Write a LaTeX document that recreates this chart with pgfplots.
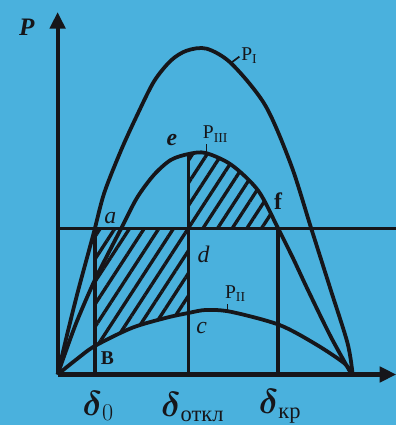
\documentclass[border=0pt]{standalone}
\usepackage{amsmath}
\usepackage{fontspec}
\setmainfont{Liberation Serif}
\usepackage{pgfplots}
\pgfplotsset{compat=1.18}
\usepgfplotslibrary{fillbetween}
\usetikzlibrary{arrows.meta,patterns.meta}
\definecolor{bgblue}{RGB}{74,177,221}
\definecolor{ink}{RGB}{22,22,26}

\begin{document}
\begin{tikzpicture}
\begin{axis}[
  set layers,
  x=0.25mm, y=0.25mm,
  xmin=0, xmax=341, ymin=0, ymax=365,
  enlargelimits=false,
  axis lines=left,
  axis line style={ink, line width=3pt},
  x axis line style={-{Triangle[length=4.2mm,width=3.8mm]}},
  y axis line style={-{Triangle[length=4.2mm,width=3.8mm]}},
  xtick=\empty, ytick=\empty,
  clip=false,
]
  % page background, 1 px of the reference = 1 axis unit
  \begin{pgfonlayer}{axis background}
    \fill[bgblue] (axis cs:-58,-51) rectangle (axis cs:341,377);
  \end{pgfonlayer}

  % P_I  (normal mode)
  \addplot[ink, line width=2.7pt, smooth, name path=P1] coordinates {
    (0,0) (10,42) (20,82) (30,119) (37,145) (47,183) (64,226) (80,261)
    (97,295) (114,316) (130,326) (150,328) (175,313) (209,271) (235,211)
    (255,148) (275,85) (292,31) (297,0)};
  % P_III (post-fault)
  \addplot[ink, line width=2.7pt, smooth, name path=P3] coordinates {
    (0,0) (18,50) (36,92) (50,120) (64,147) (80,178) (97,201) (114,216)
    (132,222) (149,223) (175,211) (202,185) (222,147) (237,117) (252,85)
    (275,38) (296,0)};
  % P_II (fault)
  \addplot[ink, line width=2.7pt, smooth, name path=P2] coordinates {
    (0,0) (20,16) (38,29) (75,47) (109,57) (132,62) (150,65) (175,63)
    (223,50) (259,31) (289,11) (296,0)};
  % P_0
  \addplot[ink, line width=2.4pt, name path=P0] coordinates {(0,147) (341,147)};

  \addplot[pattern={Lines[angle=57,distance=8.8pt,line width=2.4pt]}, pattern color=ink]
    fill between[of=P0 and P2, soft clip={domain=37.5:132}];
  \addplot[pattern={Lines[angle=57,distance=8.8pt,line width=2.4pt]}, pattern color=ink]
    fill between[of=P3 and P0, soft clip={domain=132:222}];

  \addplot[ink, line width=2.5pt] coordinates {(37.5,0) (37.5,147)};
  \addplot[ink, line width=2.5pt] coordinates {(132,0) (132,222)};
  \addplot[ink, line width=2.5pt] coordinates {(222,0) (222,147)};

  \draw[ink, line width=1.2pt] (axis cs:175,314) -- (axis cs:183,320);
  \draw[ink, line width=1.2pt] (axis cs:150,223) -- (axis cs:150,232);
  \draw[ink, line width=1.2pt] (axis cs:171,64) -- (axis cs:171,71);

  \node[ink, font=\fontsize{18}{20}\selectfont\bfseries\itshape] at (axis cs:-31,350) {P};
  \node[ink, font=\fontsize{14}{16}\selectfont] at (axis cs:193,321) {P\textsubscript{I}};
  \node[ink, font=\fontsize{14}{16}\selectfont] at (axis cs:159,242) {P\textsubscript{III}};
  \node[ink, font=\fontsize{14}{16}\selectfont] at (axis cs:179,81) {P\textsubscript{II}};
  \node[ink, font=\fontsize{17}{18}\selectfont\itshape] at (axis cs:53,158) {a};
  \node[ink, font=\fontsize{17}{18}\selectfont\itshape\bfseries] at (axis cs:115,236) {e};
  \node[ink, font=\fontsize{17}{18}\selectfont\itshape] at (axis cs:147,121) {d};
  \node[ink, font=\fontsize{17}{18}\selectfont\itshape] at (axis cs:145,47) {c};
  \node[ink, font=\fontsize{17}{18}\selectfont\bfseries] at (axis cs:222,175) {f};
  \node[ink, font=\fontsize{14}{16}\selectfont\bfseries] at (axis cs:50,16) {B};

  \node[ink, font=\fontsize{23}{26}\selectfont] at (axis cs:41,-32) {$\boldsymbol{\delta}_{0}$};
  \node[ink, font=\fontsize{23}{26}\selectfont] at (axis cs:136,-33) {$\boldsymbol{\delta}_{\text{откл}}$};
  \node[ink, font=\fontsize{23}{26}\selectfont] at (axis cs:224,-32) {$\boldsymbol{\delta}_{\text{кр}}$};
\end{axis}
\end{tikzpicture}
\end{document}
